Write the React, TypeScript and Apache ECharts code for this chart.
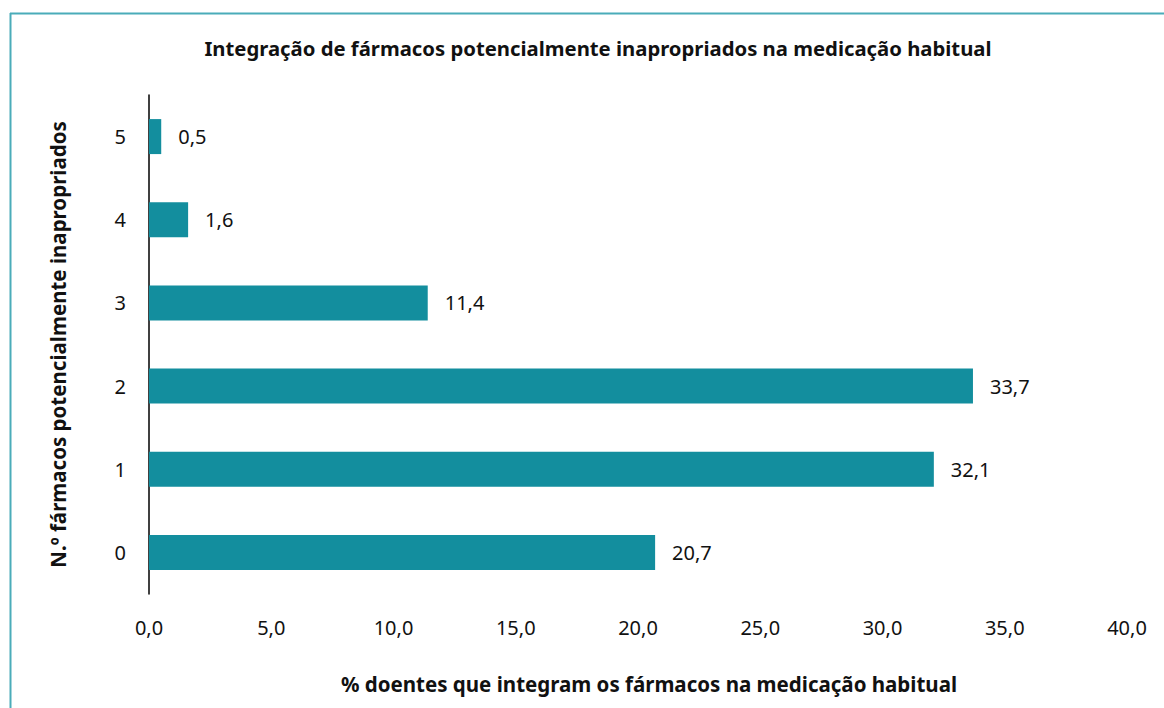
import React, { useEffect, useRef } from "react";
import * as echarts from "echarts";

const categories = ["0", "1", "2", "3", "4", "5"];
const values = [20.7, 32.1, 33.7, 11.4, 1.6, 0.5];
const titleText = "Integração de fármacos potencialmente inapropriados na medicação habitual";
const xAxisName = "% doentes que integram os fármacos na medicação habitual";
const yAxisName = "N.º fármacos potencialmente inapropriados";

const FONT = "'Noto Sans', sans-serif";
const fmt = (v: number) => v.toFixed(1).replace(".", ",");

export default function App() {
  const ref = useRef<HTMLDivElement>(null);
  useEffect(() => {
    document.body.style.margin = "0";
    const chart = echarts.init(ref.current!, null, { renderer: "svg" });
    chart.setOption({
      animation: false,
      backgroundColor: "#ffffff",
      textStyle: { fontFamily: FONT },
      title: {
        text: titleText,
        left: 593,
        textAlign: "center",
        top: 33,
        textStyle: { fontFamily: FONT, fontSize: 20.3, fontWeight: "bold", color: "#111" },
      },
      graphic: [
        { type: "line", shape: { x1: 10.5, y1: 13, x2: 10.5, y2: 708 }, style: { stroke: "#4aacb9", lineWidth: 2 } },
        { type: "line", shape: { x1: 10, y1: 13.5, x2: 1164, y2: 13.5 }, style: { stroke: "#4aacb9", lineWidth: 2 } },
      ],
      grid: { left: 149, right: 37, top: 95, bottom: 114, containLabel: false },
      xAxis: {
        type: "value",
        min: 0,
        max: 40,
        interval: 5,
        axisLine: { show: false },
        axisTick: { show: false },
        splitLine: { show: false },
        axisLabel: { formatter: (v: number) => fmt(v), fontSize: 20, color: "#111", margin: 23, fontFamily: FONT },
        name: xAxisName,
        nameLocation: "middle",
        nameGap: 79,
        nameTextStyle: { fontSize: 20.5, fontWeight: "bold", color: "#111", fontFamily: FONT, padding: [0, 0, 0, 22] },
      },
      yAxis: {
        type: "category",
        data: categories,
        axisLine: { show: true, lineStyle: { color: "#000", width: 1.5 } },
        axisTick: { show: false },
        axisLabel: { fontSize: 20, color: "#111", margin: 23, fontFamily: FONT },
        name: yAxisName,
        nameLocation: "middle",
        nameGap: 81,
        nameRotate: 90,
        nameTextStyle: { fontSize: 20.5, fontWeight: "bold", color: "#111", fontFamily: FONT },
      },
      series: [
        {
          type: "bar",
          data: values,
          barWidth: 35,
          itemStyle: { color: "#138e9e" },
          label: {
            show: true,
            position: "right",
            distance: 17,
            formatter: (p: any) => fmt(p.value),
            fontSize: 20,
            color: "#111",
            fontFamily: FONT,
          },
        },
      ],
    });
    return () => chart.dispose();
  }, []);
  return <div ref={ref} style={{ width: 1164, height: 708 }} />;
}
